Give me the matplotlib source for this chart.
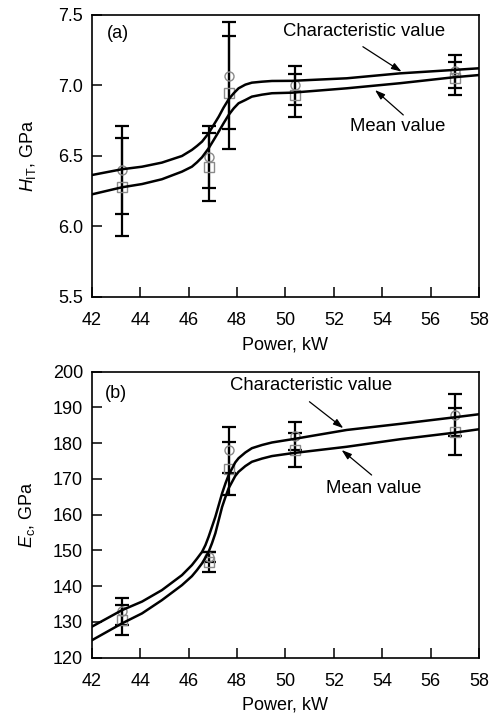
import matplotlib

matplotlib.use("Agg")

import matplotlib.pyplot as plt

plt.rcParams["font.family"] = ["Liberation Sans", "DejaVu Sans"]
plt.rcParams["mathtext.fontset"] = "custom"
plt.rcParams["mathtext.rm"] = "Liberation Sans"
plt.rcParams["mathtext.it"] = "Liberation Sans:italic"

# measured points (circle = characteristic, square = mean)
power = [43.25, 46.85, 47.65, 50.4, 57.0]

hit_char = [6.40, 6.49, 7.07, 7.00, 7.10]
hit_char_err = [0.31, 0.22, 0.38, 0.135, 0.115]
hit_mean = [6.28, 6.42, 6.95, 6.93, 7.05]
hit_mean_err = [0.35, 0.24, 0.40, 0.15, 0.115]

ec_char = [133.0, 148.3, 178.1, 182.1, 187.9]
ec_char_err = [3.8, 1.4, 6.5, 3.9, 5.8]
ec_mean = [130.5, 146.8, 172.8, 178.1, 183.2]
ec_mean_err = [4.2, 2.7, 7.4, 4.7, 6.6]

# fitted curves
hit_curve_x = [42.0, 43.24, 44.07, 44.89, 45.72, 46.13, 46.34, 46.55, 46.82, 47.03,
               47.24, 47.44, 47.65, 47.86, 48.06, 48.34, 48.61, 49.03, 49.44, 50.27,
               52.53, 54.73, 56.94, 58.0]
hit_curve_char = [6.365, 6.406, 6.424, 6.453, 6.50, 6.543, 6.571, 6.602, 6.661, 6.72,
                  6.779, 6.843, 6.902, 6.945, 6.98, 7.006, 7.02, 7.027, 7.032, 7.033,
                  7.051, 7.086, 7.11, 7.122]
hit_curve_mean = [6.228, 6.278, 6.301, 6.335, 6.389, 6.424, 6.455, 6.491, 6.554, 6.613,
                  6.673, 6.732, 6.791, 6.838, 6.874, 6.897, 6.921, 6.935, 6.945, 6.949,
                  6.98, 7.016, 7.058, 7.074]

ec_curve_x = [42.0, 43.24, 44.07, 44.89, 45.72, 46.13, 46.34, 46.55, 46.69, 46.82,
              46.96, 47.1, 47.24, 47.38, 47.52, 47.65, 47.92, 48.06, 48.34, 48.61,
              49.03, 49.44, 50.27, 52.53, 54.73, 56.94, 58.0]
ec_curve_char = [128.7, 133.3, 135.7, 138.9, 143.1, 145.9, 147.7, 149.6, 151.5, 153.8,
                 156.6, 159.4, 162.7, 166.0, 168.8, 171.1, 174.6, 175.8, 177.4, 178.6,
                 179.5, 180.2, 181.1, 183.7, 185.4, 187.2, 188.1]
ec_curve_mean = [124.9, 129.6, 132.4, 136.1, 140.3, 142.8, 144.5, 146.4, 148.0, 149.6,
                 152.0, 154.8, 158.5, 162.2, 165.0, 167.4, 170.8, 172.0, 173.6, 174.8,
                 175.7, 176.4, 177.2, 179.0, 181.1, 182.9, 183.9]

xticks = [42, 44, 46, 48, 50, 52, 54, 56, 58]
hit_ticks = [5.5, 6.0, 6.5, 7.0, 7.5]
ec_ticks = [120, 130, 140, 150, 160, 170, 180, 190, 200]

fig = plt.figure(figsize=(4.93, 7.17), dpi=100)
ax0 = fig.add_axes([0.1866, 0.5858, 0.785, 0.3933])
ax1 = fig.add_axes([0.1866, 0.0827, 0.785, 0.3989])

ebkw = dict(fmt="none", ecolor="black", elinewidth=1.6, capsize=5, capthick=1.6, zorder=2)
mkw = dict(linestyle="none", markerfacecolor="none", markeredgecolor="#8a8a8a",
           markersize=6.5, markeredgewidth=1.0, zorder=3)
arrow = dict(arrowstyle="-|>,head_length=0.6,head_width=0.2", color="black", lw=0.9,
             mutation_scale=10, shrinkA=0, shrinkB=0)


def style(ax, yticks, ylim, ylabel, ypad):
    ax.set_xlim(42, 58)
    ax.set_ylim(*ylim)
    ax.set_xticks(xticks)
    ax.set_yticks(yticks)
    ax.tick_params(direction="in", length=7, width=1.1, labelsize=13,
                   top=False, right=False)
    ax.tick_params(axis="x", pad=11)
    ax.tick_params(axis="y", pad=6.5)
    for s in ax.spines.values():
        s.set_linewidth(1.2)
    ax.set_xlabel("Power, kW", fontsize=13, labelpad=5)
    ax.set_ylabel(ylabel, fontsize=13, labelpad=ypad)


# (a) hardness
ax0.plot(hit_curve_x, hit_curve_char, color="black", lw=1.8, zorder=4)
ax0.plot(hit_curve_x, hit_curve_mean, color="black", lw=1.8, zorder=4)
ax0.errorbar(power, hit_char, yerr=hit_char_err, **ebkw)
ax0.errorbar(power, hit_mean, yerr=hit_mean_err, **ebkw)
ax0.plot(power, hit_char, marker="o", **mkw)
ax0.plot(power, hit_mean, marker="s", **mkw)
style(ax0, hit_ticks, (5.5, 7.5), r"$H_{\mathrm{IT}}$, GPa", 14)
ax0.yaxis.set_major_formatter(matplotlib.ticker.FormatStrFormatter("%.1f"))
ax0.text(42.62, 7.37, "(a)", fontsize=13, va="center", ha="left")
ax0.annotate("", xy=(54.8, 7.098), xytext=(53.2, 7.275), arrowprops=arrow)
ax0.annotate("", xy=(53.7, 6.968), xytext=(54.87, 6.791), arrowprops=arrow)
ax0.text(56.6, 7.38, "Characteristic value", fontsize=13.3, ha="right", va="center")
ax0.text(56.6, 6.708, "Mean value", fontsize=13.3, ha="right", va="center")

# (b) elastic modulus
ax1.plot(ec_curve_x, ec_curve_char, color="black", lw=1.8, zorder=4)
ax1.plot(ec_curve_x, ec_curve_mean, color="black", lw=1.8, zorder=4)
ax1.errorbar(power, ec_char, yerr=ec_char_err, **ebkw)
ax1.errorbar(power, ec_mean, yerr=ec_mean_err, **ebkw)
ax1.plot(power, ec_char, marker="o", **mkw)
ax1.plot(power, ec_mean, marker="s", **mkw)
style(ax1, ec_ticks, (120, 200), r"$E_{\mathrm{c}}$, GPa", 11)
ax1.text(42.54, 194.0, "(b)", fontsize=13, va="center", ha="left")
ax1.annotate("", xy=(52.39, 184.2), xytext=(50.99, 191.6), arrowprops=arrow)
ax1.annotate("", xy=(52.32, 178.1), xytext=(53.56, 171.1), arrowprops=arrow)
ax1.text(54.4, 196.0, "Characteristic value", fontsize=13.3, ha="right", va="center")
ax1.text(55.6, 167.4, "Mean value", fontsize=13.3, ha="right", va="center")

fig.savefig("out.png", dpi=100)
